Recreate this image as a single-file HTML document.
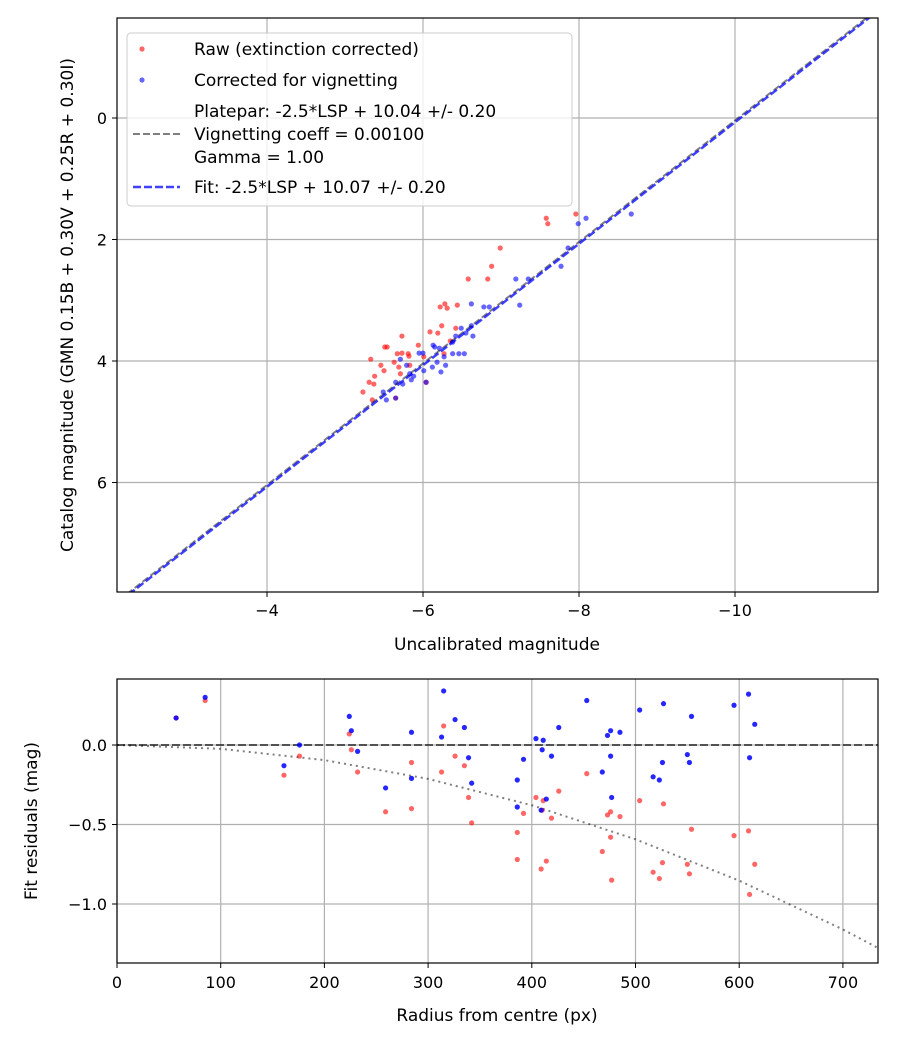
<!DOCTYPE html>
<html><head><meta charset="utf-8"><style>
body{margin:0;background:#fff;font-family:"Liberation Sans","DejaVu Sans",sans-serif}
svg text{font-family:"DejaVu Sans","Liberation Sans",sans-serif;fill:#000}
</style></head><body>
<svg id="chart" width="900" height="1050" viewBox="0 0 900 1050" xmlns="http://www.w3.org/2000/svg" style="position:absolute;left:0;top:0">
<rect width="900" height="1050" fill="#fff"/>
<defs>
<clipPath id="c1"><rect x="117" y="18" width="761" height="574"/></clipPath>
<clipPath id="c2"><rect x="117" y="679" width="761" height="284"/></clipPath>
</defs>
<g id="topPlot"></g>
<g id="botPlot"></g>
</svg>
<script>
// ---- Top chart data ----
const rawX=[-7.58,-7.60,-7.96,-6.99,-6.88,-6.58,-6.83,-6.22,-6.28,-6.31,-6.44,-6.24,-6.42,-6.09,-6.19,-5.73,-5.94,-6.35,-5.51,-5.54,-5.67,-5.73,-5.81,-5.82,-6.01,-6.27,-5.33,-5.63,-5.69,-5.46,-5.83,-5.50,-5.71,-5.38,-5.31,-5.37,-5.23,-5.35,-6.04,-5.65];
const rawY=[1.65,1.74,1.58,2.14,2.44,2.65,2.65,3.11,3.06,3.13,3.08,3.42,3.46,3.52,3.54,3.59,3.74,3.67,3.77,3.77,3.88,3.87,3.88,3.92,3.93,3.88,3.97,4.02,4.10,4.07,4.07,4.16,4.21,4.25,4.35,4.38,4.51,4.64,4.35,4.61];
const corX=[-8.67,-7.99,-8.09,-7.86,-7.77,-7.19,-7.35,-7.24,-6.78,-6.85,-6.62,-6.49,-6.62,-6.55,-6.64,-6.42,-6.38,-6.13,-6.15,-6.21,-6.00,-5.95,-6.38,-6.46,-6.53,-5.71,-6.27,-6.18,-6.29,-5.79,-6.12,-6.01,-5.88,-5.83,-6.23,-5.65,-5.74,-5.85,-5.49,-5.53,-6.04,-5.65];
const corY=[1.58,1.74,1.65,2.14,2.44,2.65,2.65,3.08,3.11,3.11,3.06,3.46,3.42,3.54,3.59,3.59,3.69,3.74,3.77,3.79,3.87,3.87,3.88,3.88,3.88,3.97,3.93,4.02,4.07,4.07,4.10,4.16,4.25,4.21,4.18,4.35,4.38,4.31,4.51,4.64,4.35,4.61];
const plateparZP=10.04;
const fitZP=10.07;
const topXTicks=[-4,-6,-8,-10];
const topYTicks=[0,2,4,6];
// ---- Bottom chart data ----
const radius=[57,85,161,176,224,226,232,259,284,284,315,313,326,335,339,342,386,386,392,404,411,410,409,414,419,426,453,468,473,476,476,477,485,504,517,523,526,527,550,552,554,595,609,610,615];
const resRaw=[0.17,0.28,-0.19,-0.07,0.07,-0.03,-0.17,-0.42,-0.11,-0.40,0.12,-0.17,-0.07,-0.13,-0.33,-0.49,-0.55,-0.72,-0.43,-0.33,-0.35,-0.41,-0.78,-0.73,-0.46,-0.29,-0.18,-0.67,-0.44,-0.42,-0.58,-0.85,-0.45,-0.35,-0.80,-0.84,-0.74,-0.37,-0.75,-0.81,-0.53,-0.57,-0.54,-0.94,-0.75];
const resCor=[0.17,0.30,-0.13,0.0,0.18,0.09,-0.04,-0.27,0.08,-0.21,0.34,0.05,0.16,0.11,-0.08,-0.24,-0.22,-0.39,-0.09,0.04,0.03,-0.03,-0.41,-0.34,-0.07,0.11,0.28,-0.17,0.06,0.09,-0.07,-0.33,0.08,0.22,-0.20,-0.22,-0.11,0.26,-0.06,-0.11,0.18,0.25,0.32,-0.08,0.13];
const vigR=[0,100,200,300,400,500,600,700,734];
const vigRes=[0,-0.024,-0.095,-0.213,-0.379,-0.593,-0.853,-1.16,-1.277];
const botXTicks=[0,100,200,300,400,500,600,700];
const botYTicks=[0.0,-0.5,-1.0];

(function(){
const NS="http://www.w3.org/2000/svg";
function mk(parent,tag,attrs){const e=document.createElementNS(NS,tag);for(const k in attrs)e.setAttribute(k,attrs[k]);parent.appendChild(e);return e;}
const tx=v=>267+(-4-v)*78;
const ty=v=>118+v*60.75;
const bx=v=>117+v*1.037;
const by=v=>745-v*159;
const topG=document.getElementById('topPlot'), botG=document.getElementById('botPlot');

topXTicks.forEach(t=>{
 const l=mk(topG,'line',{x1:tx(t),x2:tx(t),y1:18,y2:592,stroke:'#b0b0b0','stroke-width':1.2});
 
 
 mk(topG,'line',{x1:tx(t),x2:tx(t),y1:592,y2:597,stroke:'#000','stroke-width':1});
 const s=mk(topG,'text',{x:tx(t),y:616,'text-anchor':'middle','font-size':16});
 s.textContent='\u2212'+Math.abs(t);
 
 
});
topYTicks.forEach(t=>{
 const l=mk(topG,'line',{x1:117,x2:878,y1:ty(t),y2:ty(t),stroke:'#b0b0b0','stroke-width':1.2});
 
 
 mk(topG,'line',{x1:112,x2:117,y1:ty(t),y2:ty(t),stroke:'#000','stroke-width':1});
 const s=mk(topG,'text',{x:107,y:ty(t)+6,'text-anchor':'end','font-size':16});
 s.textContent=String(t);
 
 
});
const gT=mk(topG,'g',{'clip-path':'url(#c1)'});
rawX.forEach((x,i)=>{
 const c=mk(gT,'circle',{cx:tx(x),cy:ty(rawY[i]),r:2.6,fill:'#ff0000','fill-opacity':0.6});
 
 
});
corX.forEach((x,i)=>{
 const c=mk(gT,'circle',{cx:tx(x),cy:ty(corY[i]),r:2.6,fill:'#0000ff','fill-opacity':0.6});
 
 
});
const lx1=-2,lx2=-12;
const pl=mk(gT,'line',{x1:tx(lx1),y1:ty(lx1+plateparZP),x2:tx(lx2),y2:ty(lx2+plateparZP),stroke:'#000','stroke-opacity':0.5,'stroke-width':2,'stroke-dasharray':'7,3'});


const fl=mk(gT,'line',{x1:tx(lx1),y1:ty(lx1+fitZP),x2:tx(lx2),y2:ty(lx2+fitZP),stroke:'#0000ff','stroke-opacity':0.75,'stroke-width':2.5,'stroke-dasharray':'8,3'});


mk(topG,'rect',{x:117,y:18,width:761,height:574,fill:'none',stroke:'#000','stroke-width':1.2});

botXTicks.forEach(t=>{
 const l=mk(botG,'line',{x1:bx(t),x2:bx(t),y1:679,y2:963,stroke:'#b0b0b0','stroke-width':1.2});
 
 
 mk(botG,'line',{x1:bx(t),x2:bx(t),y1:963,y2:968,stroke:'#000'});
 const s=mk(botG,'text',{x:bx(t),y:988,'text-anchor':'middle','font-size':16});
 s.textContent=String(t);
 
 
});
botYTicks.forEach(t=>{
 const l=mk(botG,'line',{x1:117,x2:878,y1:by(t),y2:by(t),stroke:'#b0b0b0','stroke-width':1.2});
 
 
 mk(botG,'line',{x1:112,x2:117,y1:by(t),y2:by(t),stroke:'#000'});
 const s=mk(botG,'text',{x:107,y:by(t)+6,'text-anchor':'end','font-size':16});
 s.textContent=(t<0?'\u2212':'')+Math.abs(t).toFixed(1);
 
 
});
const gB=mk(botG,'g',{'clip-path':'url(#c2)'});
const zl=mk(gB,'line',{x1:117,x2:878,y1:by(0),y2:by(0),stroke:'#000','stroke-opacity':0.6,'stroke-width':2,'stroke-dasharray':'8,3'});


const vp=mk(gB,'polyline',{points:vigR.map((r,i)=>bx(r)+','+by(vigRes[i])).join(' '),fill:'none',stroke:'#000','stroke-opacity':0.5,'stroke-width':2,'stroke-dasharray':'2,4'});


radius.forEach((r,i)=>{
 const c=mk(gB,'circle',{cx:bx(r),cy:by(resRaw[i]),r:2.6,fill:'#ff0000','fill-opacity':0.6});
 
 
});
radius.forEach((r,i)=>{
 const c=mk(gB,'circle',{cx:bx(r),cy:by(resCor[i]),r:2.6,fill:'#0000ff','fill-opacity':0.85});
 
 
});
mk(botG,'rect',{x:117,y:679,width:761,height:284,fill:'none',stroke:'#000','stroke-width':1.2});
})();
</script>
<svg style="position:absolute;left:0;top:0" width="900" height="1050">
<text x="497" y="650" text-anchor="middle" font-size="17" font-family="DejaVu Sans, sans-serif">Uncalibrated magnitude</text>
<text transform="translate(73,305) rotate(-90)" text-anchor="middle" font-size="17" font-family="DejaVu Sans, sans-serif">Catalog magnitude (GMN 0.15B + 0.30V + 0.25R + 0.30I)</text>
<text x="497" y="1021" text-anchor="middle" font-size="17" font-family="DejaVu Sans, sans-serif">Radius from centre (px)</text>
<text transform="translate(37,821) rotate(-90)" text-anchor="middle" font-size="17" font-family="DejaVu Sans, sans-serif">Fit residuals (mag)</text>
<g font-family="DejaVu Sans, sans-serif" font-size="17">
<rect x="127" y="33" width="445" height="173" rx="4" fill="#fff" fill-opacity="0.8" stroke="#ccc"/>
<circle cx="142" cy="49" r="2.6" fill="#ff0000" fill-opacity="0.6"/>
<text x="194" y="55">Raw (extinction corrected)</text>
<circle cx="142" cy="80" r="2.6" fill="#0000ff" fill-opacity="0.6"/>
<text x="194" y="86">Corrected for vignetting</text>
<line x1="133" y1="134" x2="180" y2="134" stroke="#000" stroke-opacity="0.5" stroke-width="2" stroke-dasharray="7,3"/>
<text x="194" y="117">Platepar: -2.5*LSP + 10.04 +/- 0.20</text>
<text x="194" y="140">Vignetting coeff = 0.00100</text>
<text x="194" y="163">Gamma = 1.00</text>
<line x1="133" y1="187" x2="180" y2="187" stroke="#0000ff" stroke-opacity="0.75" stroke-width="2.5" stroke-dasharray="8,3"/>
<text x="194" y="193">Fit: -2.5*LSP + 10.07 +/- 0.20</text>
</g>
</svg>
</body></html>
